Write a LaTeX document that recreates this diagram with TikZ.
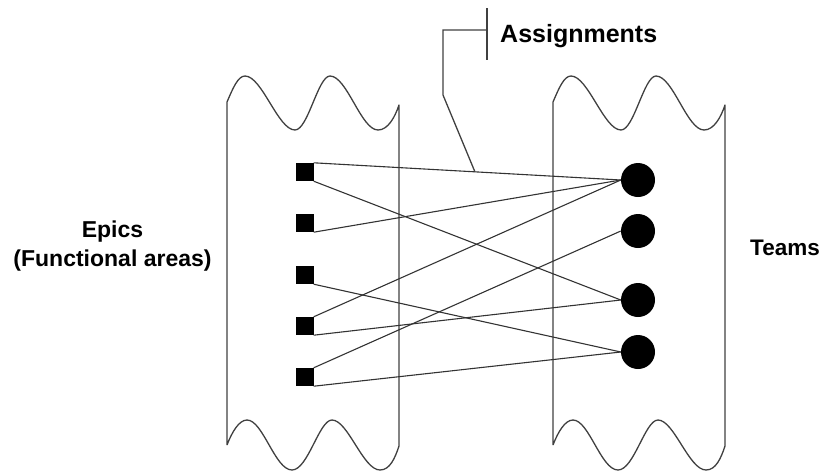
\documentclass[tikz,border=0pt]{standalone}
\usepackage{fontspec}
\setmainfont{Liberation Sans}
\usetikzlibrary{calc}
\tikzset{
  panelline/.style={draw=black!75, line width=1.3pt, line join=round},
  link/.style={draw=black!80, line width=1.1pt},
  calloutline/.style={draw=black!75, line width=1.3pt},
  epic/.style={rectangle, fill=black, minimum size=18pt, inner sep=0pt},
  team/.style={circle, fill=black, minimum size=34pt, inner sep=0pt},
  caption/.style={font=\bfseries\fontsize{23}{29}\selectfont, align=center, inner sep=0pt}
}
\begin{document}
\begin{tikzpicture}[x=1pt, y=-1pt]
  \useasboundingbox (0,0) rectangle (827,472);
  % two wavy-edged panels
  \foreach \dx in {227,553} {
    \begin{scope}[xshift=\dx]
      \draw[panelline]
        (0,445) -- (0,102)
        .. controls (6,88) and (11,76) .. (18,76)
        .. controls (35,76) and (51,130) .. (68,130)
        .. controls (81,130) and (91,76) .. (103,76)
        .. controls (120,76) and (134,130) .. (151,130)
        .. controls (161,130) and (168,117) .. (172,105)
        -- (172,446)
        .. controls (168,458) and (163,470) .. (153,470)
        .. controls (136,470) and (121,420) .. (105,420)
        .. controls (92,420) and (81,470) .. (65,470)
        .. controls (48,470) and (36,420) .. (20,420)
        .. controls (12,420) and (5,432) .. (0,445);
    \end{scope}
  }
  % epics
  \node[epic] (s1) at (304.5,172) {};
  \node[epic] (s2) at (304.5,223) {};
  \node[epic] (s3) at (304.5,275) {};
  \node[epic] (s4) at (304.5,326) {};
  \node[epic] (s5) at (304.5,377) {};
  % teams
  \node[team] (c1) at (638,180) {};
  \node[team] (c2) at (638,231) {};
  \node[team] (c3) at (638,300) {};
  \node[team] (c4) at (638,352) {};
  % assignments
  \draw[link] (s1.north east) -- (c1.west);
  \draw[link] (s1.south east) -- (c3.west);
  \draw[link] (s2.south east) -- (c1.west);
  \draw[link] (s3.south east) -- (c4.west);
  \draw[link] (s4.north east) -- (c1.west);
  \draw[link] (s4.south east) -- (c3.west);
  \draw[link] (s5.north east) -- (c2.west);
  \draw[link] (s5.south east) -- (c4.west);
  % callout
  \coordinate (tip) at ($(s1.north east)!0.525!(c1.west)$);
  \coordinate (knee) at (443,95);
  \coordinate (elbow) at (443,30);
  \coordinate (bar) at (487,30);
  \coordinate (bartop) at (487,8);
  \coordinate (barbot) at (487,60);
  \draw[calloutline] (tip) -- (knee) -- (elbow) -- (bar);
  \draw[calloutline] (bartop) -- (barbot);
  \node[caption, font=\bfseries\fontsize{25}{30}\selectfont, anchor=base west] (assign) at (500,42) {Assignments};
  % labels
  \node[caption] (epics) at (112.5,246) {Epics\\(Functional areas)};
  \node[caption, font=\bfseries\fontsize{22.5}{28}\selectfont, anchor=base] (teams) at (785,255) {Teams};
\end{tikzpicture}
\end{document}
